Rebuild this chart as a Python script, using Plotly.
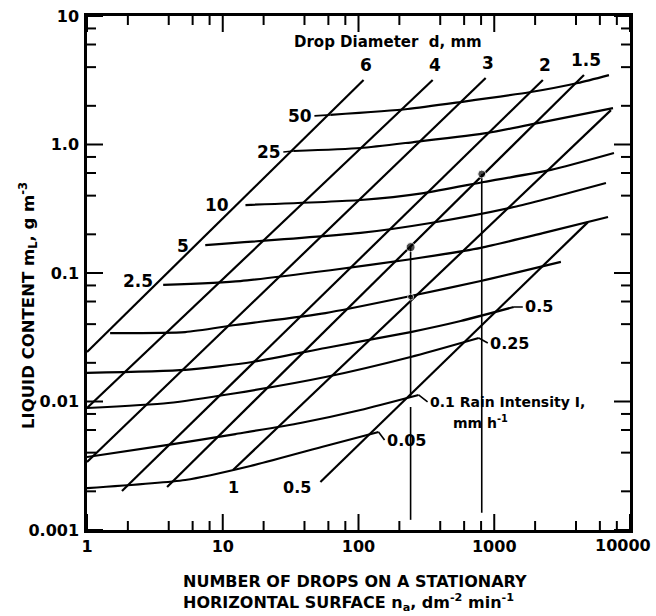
import math
import plotly.graph_objects as go

# ---------------- data ----------------
# Drop-diameter lines d (mm): straight lines on log-log axes, lower and upper end points
diam_labels = ["6", "4", "3", "2", "1.5", "1", "0.5"]
diam_n_lo = [1, 1, 1, 1.81, 3.89, 11.9, 52.4]
diam_m_lo = [0.0243, 0.00889, 0.00338, 0.00201, 0.00216, 0.00293, 0.00236]
diam_n_hi = [109, 352, 865, 2280, 4580, 7240, 4900]
diam_m_hi = [3.18, 3.18, 3.29, 3.18, 3.47, 1.85, 0.249]

# Rain-intensity curves I (mm/h): n_a (drops dm^-2 min^-1) and m_L (g m^-3)
i50_n = [62.1, 230, 566, 1859, 4132, 6998]
i50_m = [1.70, 1.89, 2.14, 2.56, 3.01, 3.47]
i25_n = [33.1, 103.5, 255, 896, 2318, 7496]
i25_m = [0.890, 0.939, 1.045, 1.23, 1.50, 1.92]
i10_n = [14.7, 103.5, 302, 837, 2612, 7620]
i10_m = [0.338, 0.370, 0.419, 0.511, 0.634, 0.859]
i5_n = [7.43, 103.5, 340, 1393, 6653]
i5_m = [0.165, 0.205, 0.245, 0.326, 0.502]
i2p5_n = [3.64, 13.5, 62.1, 242, 795, 2318, 6887]
i2p5_m = [0.0807, 0.0866, 0.105, 0.128, 0.157, 0.205, 0.273]
i1_n = [1.48, 5.29, 12.4, 57.1, 242, 795, 3097]
i1_m = [0.0341, 0.0347, 0.0394, 0.0488, 0.0662, 0.0866, 0.122]
i0p5_n = [1, 5.29, 16.5, 57.1, 242, 566, 1393]
i0p5_m = [0.0167, 0.0176, 0.0203, 0.0261, 0.0347, 0.0423, 0.0544]
i0p25_n = [1, 3.96, 12.4, 57.1, 242, 769]
i0p25_m = [0.00890, 0.00973, 0.0116, 0.0155, 0.0222, 0.0312]
i0p1_n = [1, 3.96, 12.4, 37.3, 103.5, 277]
i0p1_m = [0.00370, 0.00459, 0.00558, 0.00680, 0.00859, 0.01124]
i0p05_n = [1, 5.29, 16.0, 57.1, 140.5]
i0p05_m = [0.00212, 0.00245, 0.00315, 0.00451, 0.00579]

curves = [
    ("50", i50_n, i50_m), ("25", i25_n, i25_m), ("10", i10_n, i10_m),
    ("5", i5_n, i5_m), ("2.5", i2p5_n, i2p5_m), ("1", i1_n, i1_m),
    ("0.5", i0p5_n, i0p5_m), ("0.25", i0p25_n, i0p25_m),
    ("0.1", i0p1_n, i0p1_m), ("0.05", i0p05_n, i0p05_m),
]

# Example read-off verticals and marked points
vert_n = [242, 809]
vert_top = [0.159, 0.589]
vert_bottom = [0.00120, 0.00136]
vert1_gap = [0.01084, 0.00906]
dot_n = [242, 242, 809]
dot_m = [0.159, 0.0650, 0.589]

# Axis ticks
x_tickvals = [1, 10, 100, 1000, 10000]
x_ticktext = ["1", "10", "100", "1000", "10000"]
y_tickvals = [0.001, 0.01, 0.1, 1, 10]
y_ticktext = ["0.001", "0.01", "0.1", "1.0", "10"]
minor_multipliers = [2, 4, 6, 8]

# ---------------- figure ----------------
FONT = "DejaVu Sans"
LINE = dict(color="black", width=2.2)
fig = go.Figure()

for nl, ml, nh, mh in zip(diam_n_lo, diam_m_lo, diam_n_hi, diam_m_hi):
    fig.add_trace(go.Scatter(x=[nl, nh], y=[ml, mh], mode="lines", line=LINE,
                             hoverinfo="skip", showlegend=False))

for lab, n, m in curves:
    fig.add_trace(go.Scatter(x=n, y=m, mode="lines",
                             line=dict(color="black", width=2.2, shape="spline", smoothing=0.6),
                             hoverinfo="skip", showlegend=False))

# vertical read-off lines
fig.add_trace(go.Scatter(x=[vert_n[0], vert_n[0], None, vert_n[0], vert_n[0]],
                         y=[vert_top[0], vert1_gap[0], None, vert1_gap[1], vert_bottom[0]],
                         mode="lines", line=dict(color="black", width=1.6),
                         hoverinfo="skip", showlegend=False))
fig.add_trace(go.Scatter(x=[vert_n[1], vert_n[1]], y=[vert_top[1], vert_bottom[1]],
                         mode="lines", line=dict(color="black", width=1.6),
                         hoverinfo="skip", showlegend=False))
fig.add_trace(go.Scatter(x=dot_n, y=dot_m, mode="markers",
                         marker=dict(color="black", size=[9, 6, 8]),
                         hoverinfo="skip", showlegend=False))

ann = []
L = math.log10

def num_font(size=17):
    return dict(family=FONT, size=size, color="black", weight="bold")

# intensity labels on the left (start of curve)
left_cfg = {"50": (-16, 1, True), "25": (-10, 1, True), "10": (-14, 0, False),
            "5": (-14, 1, False), "2.5": (-8, -4, False)}
for lab, n, m in curves:
    if lab in left_cfg:
        dx, dy, arrow = left_cfg[lab]
        if arrow:
            ann.append(dict(x=L(n[0]), y=L(m[0]), xref="x", yref="y", text=lab,
                            showarrow=True, arrowhead=0, arrowwidth=1.6, arrowcolor="black",
                            ax=dx, ay=dy, xanchor="right", yanchor="middle",
                            font=num_font()))
        else:
            ann.append(dict(x=L(n[0]), y=L(m[0]), xref="x", yref="y", text=lab,
                            showarrow=False, xshift=dx, yshift=-dy,
                            xanchor="right", yanchor="middle", font=num_font()))

# intensity labels on the right (end of curve)
right_cfg = {"0.5": (9, 0, "0.5"), "0.25": (9, 5, "0.25"),
             "0.1": (9, 7, "0.1 Rain Intensity I,"), "0.05": (6, 8, "0.05")}
for lab, n, m in curves:
    if lab in right_cfg:
        dx, dy, txt = right_cfg[lab]
        size = 14 if lab == "0.1" else 16
        ann.append(dict(x=L(n[-1]), y=L(m[-1]), xref="x", yref="y", text=txt,
                        showarrow=True, arrowhead=0, arrowwidth=1.6, arrowcolor="black",
                        ax=dx, ay=dy, xanchor="left", yanchor="middle",
                        font=num_font(size)))
ann.append(dict(x=2.90, y=-2.16, xref="x", yref="y", text="mm h<sup>-1</sup>",
                showarrow=False, font=num_font(14)))

# diameter labels
for lab, nl, ml, nh, mh in zip(diam_labels, diam_n_lo, diam_m_lo, diam_n_hi, diam_m_hi):
    if lab in ("6", "4", "3", "2", "1.5"):
        ann.append(dict(x=L(nh), y=L(mh), xref="x", yref="y", text=lab, showarrow=False,
                        xshift=2, yshift=15, font=num_font()))
    elif lab == "1":
        ann.append(dict(x=L(nl), y=L(ml), xref="x", yref="y", text=lab, showarrow=False,
                        yshift=-17, font=num_font(16)))
    else:
        ann.append(dict(x=L(nl), y=L(ml), xref="x", yref="y", text=lab, showarrow=False,
                        xshift=-7, yshift=-5, xanchor="right", font=num_font(16)))

ann.append(dict(x=2.214, y=0.798, xref="x", yref="y", text="Drop Diameter  d, mm",
                showarrow=False, font=num_font(15)))

# last x tick label, pulled inside the page like the original
ann.append(dict(x=0.987, y=-0.0292, xref="paper", yref="paper", text=x_ticktext[-1],
                xanchor="center", yanchor="middle", showarrow=False, font=num_font(16)))

# axis titles
ann.append(dict(x=-0.1087, y=0.4377, xref="paper", yref="paper",
                xanchor="center", yanchor="middle",
                text="LIQUID CONTENT m<sub>L</sub>, g m<sup>-3</sup>", textangle=-90,
                showarrow=False, font=num_font(16.5)))
ann.append(dict(x=0.4936, y=-0.1226, xref="paper", yref="paper",
                xanchor="center", yanchor="middle",
                text="NUMBER OF DROPS ON A STATIONARY<br>HORIZONTAL SURFACE n<sub>a</sub>, dm<sup>-2</sup> min<sup>-1</sup>",
                align="left", showarrow=False, font=num_font(16)))

# tick marks drawn inside on all four sides (long at decades, short at 2,4,6,8)
shapes = []
tick_style = dict(type="line", line=dict(color="black", width=2), layer="above")
x_all = [(v, 16) for v in x_tickvals] + \
        [(k * v, 9) for v in x_tickvals[:-1] for k in minor_multipliers]
y_all = [(v, 16) for v in y_tickvals] + \
        [(k * v, 9) for v in y_tickvals[:-1] for k in minor_multipliers]
for v, ln in x_all:
    shapes.append(dict(xref="x", yref="paper", x0=v, x1=v, ysizemode="pixel",
                       yanchor=0, y0=0, y1=ln, **tick_style))
    shapes.append(dict(xref="x", yref="paper", x0=v, x1=v, ysizemode="pixel",
                       yanchor=1, y0=0, y1=-ln, **tick_style))
for v, ln in y_all:
    shapes.append(dict(yref="y", xref="paper", y0=v, y1=v, xsizemode="pixel",
                       xanchor=0, x0=0, x1=ln, **tick_style))
    shapes.append(dict(yref="y", xref="paper", y0=v, y1=v, xsizemode="pixel",
                       xanchor=1, x0=0, x1=-ln, **tick_style))

fig.update_layout(
    width=656, height=616,
    margin=dict(l=87, r=26, t=16, b=86, autoexpand=False),
    paper_bgcolor="white", plot_bgcolor="white",
    showlegend=False, annotations=ann, shapes=shapes,
    font=dict(family=FONT, color="black"),
)

common = dict(type="log", ticks="", showline=True, linewidth=2.5, linecolor="black",
              mirror=True, showgrid=False, zeroline=False, automargin=False,
              tickfont=num_font(16))
fig.update_xaxes(range=[0, 4], tickvals=x_tickvals[:-1], ticktext=x_ticktext[:-1],
                 ticklabelstandoff=0, **common)
fig.update_yaxes(range=[-3, 1], tickvals=y_tickvals, ticktext=y_ticktext,
                 ticklabelstandoff=2, **common)

fig.write_html("out.html", config={"displayModeBar": False},
               post_script="document.body.style.margin='0';document.body.style.overflow='hidden';")
